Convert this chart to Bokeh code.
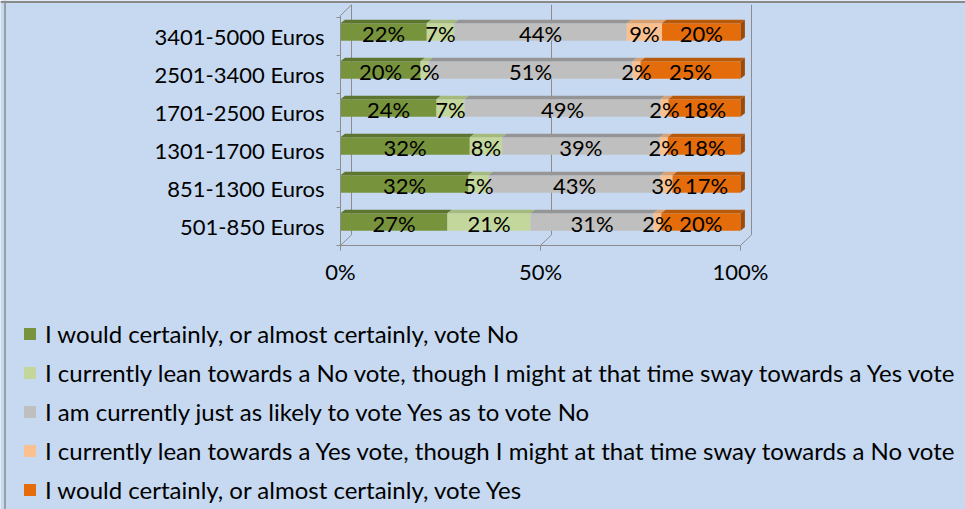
from bokeh.plotting import figure
from bokeh.models import Range1d, FixedTicker, Span
from bokeh.embed import file_html
from bokeh.resources import INLINE
from bokeh.core.properties import value

# ---- data ----
categories = ["501-850 Euros", "851-1300 Euros", "1301-1700 Euros",
              "1701-2500 Euros", "2501-3400 Euros", "3401-5000 Euros"]
series_names = [
    "I would certainly, or almost certainly, vote No",
    "I currently lean towards a No vote, though I might at that time sway towards a Yes vote",
    "I am currently just as likely to vote Yes as to vote No",
    "I currently lean towards a Yes vote, though I might at that time sway towards a No vote",
    "I would certainly, or almost certainly, vote Yes",
]
certain_no = [27, 32, 32, 24, 20, 22]
lean_no = [21, 5, 8, 7, 2, 7]
undecided = [31, 43, 39, 49, 51, 44]
lean_yes = [2, 3, 2, 2, 2, 9]
certain_yes = [20, 17, 18, 18, 25, 20]
x_ticks = [0, 50, 100]
x_tick_labels = ["0%", "50%", "100%"]

# ---- styles / layout ----
W, H = 965, 509
BG = "#C6D9F1"
FONT = "Lato"
FS = "22px"
LEG_FS = "24px"
GRID = "#8C8C8C"
BORDER = "#8A8A8A"
colors = ["#77933C", "#C3D69B", "#BFBFBF", "#FAC090", "#E46C0A"]
top_colors = ["#5E7530", "#A6BA7E", "#959595", "#D9A072", "#B85A0C"]
side_color = "#9E4A06"

PX_X, PX_Y = 4.0, 38.0          # pixels per percent / per category
X_START = -340 / PX_X
X_END = X_START + W / PX_X
Y_END = 226 / PX_Y
Y_START = Y_END - H / PX_Y

BAR_SHIFT = 0.12      # bar centre relative to category tick
BAR_H = 0.46          # front face height (category units)
DX, DY = 1.1, 0.09    # bar depth offset
WALL_DX, WALL_DY = 2.75, 0.28
FLOOR = -0.5
AXIS_TOP = 5.553

series = [certain_no, lean_no, undecided, lean_yes, certain_yes]
n = len(categories)
totals = [sum(s[i] for s in series) for i in range(n)]

p = figure(width=W, height=H, output_backend="svg", toolbar_location=None,
           x_range=Range1d(X_START, X_END), y_range=Range1d(Y_START, Y_END),
           min_border=0, background_fill_color=BG, border_fill_color=BG,
           outline_line_color=None)
p.xgrid.visible = False
p.ygrid.visible = False

# chart-area border (top and left edges)
p.add_layout(Span(location=X_START + 4.5 / PX_X, dimension="height",
                  line_color=BORDER, line_width=1.5))
p.add_layout(Span(location=Y_END - 1.5 / PX_Y, dimension="width",
                  line_color=BORDER, line_width=2))

# back wall & floor lines
wall_xs, wall_ys = [], []
for t in x_ticks:
    wall_xs.append([t + WALL_DX, t + WALL_DX])
    wall_ys.append([FLOOR + WALL_DY, AXIS_TOP + WALL_DY])
    wall_xs.append([t, t + WALL_DX])
    wall_ys.append([FLOOR, FLOOR + WALL_DY])
wall_xs.append([0, WALL_DX])
wall_ys.append([AXIS_TOP, AXIS_TOP + WALL_DY])
p.multi_line(xs=wall_xs, ys=wall_ys, line_color=GRID, line_width=1)

ys = [i + BAR_SHIFT for i in range(n)]
left = [0.0] * n
txt_x, txt_y, txt = [], [], []
for k, s in enumerate(series):
    w = [s[i] / totals[i] * 100 for i in range(n)]
    right = [left[i] + w[i] for i in range(n)]
    p.hbar(y=ys, left=left, right=right, height=BAR_H, fill_color=colors[k],
           line_color=None, legend_label=series_names[k])
    pxs, pys = [], []
    for i in range(n):
        top = ys[i] + BAR_H / 2
        pxs.append([left[i], right[i], right[i] + DX, left[i] + DX])
        pys.append([top, top, top + DY, top + DY])
        txt_x.append((left[i] + right[i]) / 2)
        txt_y.append(ys[i])
        txt.append(f"{s[i]}%")
    p.patches(xs=pxs, ys=pys, fill_color=top_colors[k], line_color=None)
    left = right

# right side faces
sxs, sys_ = [], []
for i in range(n):
    rr = left[i]
    b, t = ys[i] - BAR_H / 2, ys[i] + BAR_H / 2
    sxs.append([rr, rr + DX, rr + DX, rr])
    sys_.append([b, b + DY, t + DY, t])
p.patches(xs=sxs, ys=sys_, fill_color=side_color, line_color=None)

p.text(x=txt_x, y=txt_y, text=txt, text_font=value(FONT), text_font_size=FS,
       text_align="center", text_baseline="middle", text_color="black", y_offset=2)

# axes (drawn at fixed positions inside the full-canvas frame)
xa = p.xaxis[0]
xa.fixed_location = FLOOR
xa.ticker = FixedTicker(ticks=x_ticks)
xa.major_label_overrides = {t: l for t, l in zip(x_ticks, x_tick_labels)}
xa.bounds = (0, 100)
xa.axis_line_color = GRID
xa.major_tick_line_color = GRID
xa.major_tick_out = 5
xa.major_tick_in = 0
xa.minor_tick_line_color = None
xa.major_label_standoff = 7
xa.major_label_text_font = FONT
xa.major_label_text_font_size = FS
xa.major_label_text_color = "black"

ya = p.yaxis[0]
ya.fixed_location = 0
ya.ticker = FixedTicker(ticks=list(range(n)), minor_ticks=[i - 0.5 for i in range(n + 1)])
ya.major_label_overrides = {i: c for i, c in enumerate(categories)}
ya.bounds = (FLOOR, AXIS_TOP)
ya.axis_line_color = GRID
ya.major_tick_line_color = None
ya.major_tick_out = 0
ya.major_tick_in = 0
ya.minor_tick_line_color = GRID
ya.minor_tick_out = 4
ya.minor_tick_in = 0
ya.major_label_standoff = 12
ya.major_label_text_font = FONT
ya.major_label_text_font_size = FS
ya.major_label_text_color = "black"

lg = p.legend[0]
lg.location = (22, 0)
lg.background_fill_alpha = 0
lg.border_line_color = None
lg.padding = 0
lg.margin = 0
lg.spacing = 0
lg.label_height = 39
lg.glyph_height = 15
lg.glyph_width = 15
lg.label_standoff = 8
lg.label_text_font = FONT
lg.label_text_font_size = LEG_FS
lg.label_text_color = "black"

open("out.html", "w").write(file_html(p, INLINE))
